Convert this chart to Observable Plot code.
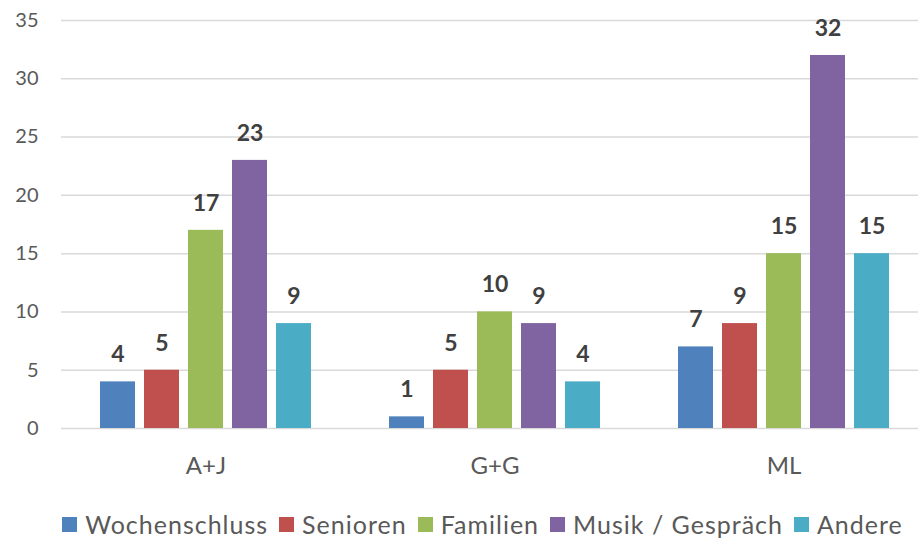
<!DOCTYPE html>
<html>
<head>
<meta charset="utf-8">
<script src="https://cdn.jsdelivr.net/npm/d3@7"></script>
<script src="https://cdn.jsdelivr.net/npm/@observablehq/plot@0.6"></script>
<style>
  body { margin: 0; background: #fff; font-family: Lato, "Open Sans", sans-serif; }
  #legend { display: flex; justify-content: center; align-items: center; font-size: 25px; letter-spacing: 1px; color: #595959; margin-top: 15px; padding-left: 58px; line-height: 28px; }
  #legend .item { display: flex; align-items: center; margin-right: 11px; }
  #legend .sw { width: 15px; height: 15px; margin-right: 8px; }
</style>
</head>
<body>
<div id="chart"></div>
<div id="legend"></div>
<script>
const groups = ["A+J", "G+G", "ML"];
const series = ["Wochenschluss", "Senioren", "Familien", "Musik / Gespräch", "Andere"];
const colors = ["#4f81bd", "#c0504d", "#9bbb59", "#8064a2", "#4bacc6"];
const valuesAJ = [4, 5, 17, 23, 9];
const valuesGG = [1, 5, 10, 9, 4];
const valuesML = [7, 9, 15, 32, 15];
const yTicks = [0, 5, 10, 15, 20, 25, 30, 35];

const allValues = [valuesAJ, valuesGG, valuesML];
const data = [];
groups.forEach((g, gi) => series.forEach((s, si) => data.push({group: g, series: s, value: allValues[gi][si]})));

const chart = Plot.plot({
  width: 918,
  height: 495,
  marginLeft: 61,
  marginRight: -10,
  marginTop: 20,
  marginBottom: 67,
  style: {fontFamily: "Lato, 'Open Sans', sans-serif", fontSize: "20px", color: "#595959", background: "#fff"},
  fx: {domain: groups, padding: 0, label: null},
  x: {domain: series, paddingInner: 0.21, paddingOuter: 0.85, axis: null},
  y: {domain: [0, 35], label: null},
  color: {domain: series, range: colors},
  marks: [
    Plot.ruleY(yTicks, {stroke: "#d9d9d9", strokeWidth: 1.5}),
    Plot.axisY(yTicks, {tickSize: 0, tickPadding: 23, fontSize: 20, fill: "#595959", label: null}),
    Plot.axisFx({anchor: "bottom", tickSize: 0, tickPadding: 28, fontSize: 24, fill: "#595959", label: null}),
    Plot.barY(data, {fx: "group", x: "series", y: "value", fill: "series"}),
    Plot.text(data, {fx: "group", x: "series", y: "value", text: d => String(d.value), dy: -27, fontWeight: "bold", fontSize: 23, fill: "#404040"})
  ]
});
document.getElementById("chart").appendChild(chart);

const legend = document.getElementById("legend");
series.forEach((s, i) => {
  const item = document.createElement("div");
  item.className = "item";
  const sw = document.createElement("div");
  sw.className = "sw";
  sw.style.background = colors[i];
  const t = document.createElement("span");
  t.textContent = s;
  item.appendChild(sw);
  item.appendChild(t);
  legend.appendChild(item);
});
</script>
</body>
</html>
